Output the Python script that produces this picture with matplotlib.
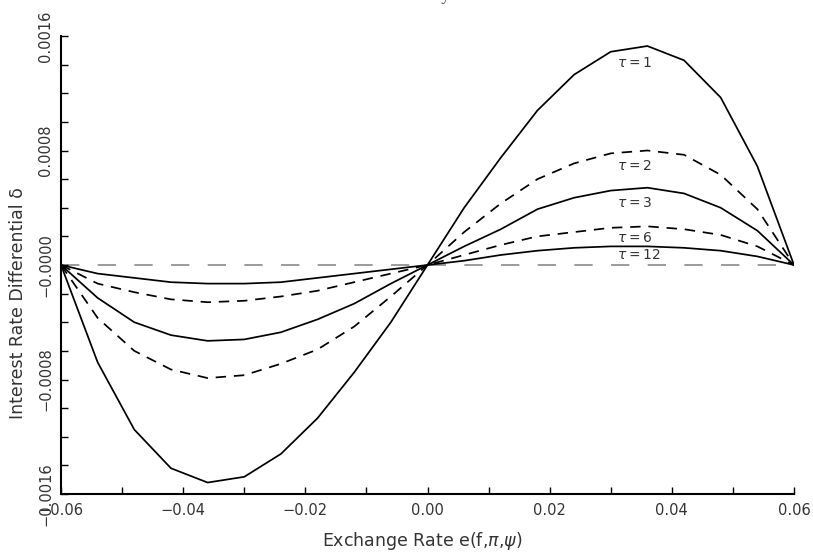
import matplotlib
matplotlib.use("Agg")
import matplotlib.pyplot as plt
from matplotlib.ticker import MultipleLocator

# exchange rate grid and interest rate differential per horizon
exchange_rate = [-0.060, -0.054, -0.048, -0.042, -0.036, -0.030, -0.024, -0.018, -0.012, -0.006, 0.000,
                 0.006, 0.012, 0.018, 0.024, 0.030, 0.036, 0.042, 0.048, 0.054, 0.060]
delta_tau1 = [0, -0.00068, -0.00115, -0.00142, -0.00152, -0.00148, -0.00132, -0.00107, -0.00075, -0.00040, 0,
              0.00040, 0.00075, 0.00108, 0.00133, 0.00149, 0.00153, 0.00143, 0.00117, 0.00069, 0]
delta_tau2 = [0, -0.00037, -0.00060, -0.00073, -0.00079, -0.00077, -0.00069, -0.00059, -0.00043, -0.00022, 0,
              0.00023, 0.00043, 0.00060, 0.00071, 0.00078, 0.00080, 0.00077, 0.00063, 0.00039, 0]
delta_tau3 = [0, -0.00023, -0.00040, -0.00049, -0.00053, -0.00052, -0.00047, -0.00038, -0.00027, -0.00013, 0,
              0.00013, 0.00025, 0.00039, 0.00047, 0.00052, 0.00054, 0.00050, 0.00040, 0.00024, 0]
delta_tau6 = [0, -0.00013, -0.00019, -0.00024, -0.00026, -0.00025, -0.00022, -0.00018, -0.00012, -0.00006, 0,
              0.00007, 0.00014, 0.00020, 0.00023, 0.00026, 0.00027, 0.00025, 0.00021, 0.00013, 0]
delta_tau12 = [0, -0.00006, -0.00009, -0.00012, -0.00013, -0.00013, -0.00012, -0.00009, -0.00006, -0.00003, 0,
               0.00003, 0.00007, 0.00010, 0.00012, 0.00013, 0.00013, 0.00012, 0.00010, 0.00006, 0]

curve_labels = [r"$\tau=1$", r"$\tau=2$", r"$\tau=3$", r"$\tau=6$", r"$\tau=12$"]
label_y = [0.00141, 0.00069, 0.00043, 0.00019, 0.00007]
label_x = 0.031

x_ticks = [-0.06, -0.04, -0.02, 0.00, 0.02, 0.04, 0.06]
x_ticklabels = ["\u22120.06", "\u22120.04", "\u22120.02", "0.00", "0.02", "0.04", "0.06"]
y_ticks = [-0.0016, -0.0008, 0.0, 0.0008, 0.0016]
y_ticklabels = ["\u22120.0016", "\u22120.0008", "\u22120.0000", "0.0008", "0.0016"]

fig = plt.figure(figsize=(8.13, 5.56), dpi=100)
ax = fig.add_axes([61 / 813, 1 - 494 / 556, (794 - 61) / 813, (494 - 36) / 556])

# --- zero reference ---
ax.axhline(0, color="#808080", linewidth=1.1, dashes=(12, 12), zorder=1)

# --- curves ---
ax.plot(exchange_rate, delta_tau1, color="black", linewidth=1.25)
ax.plot(exchange_rate, delta_tau2, color="black", linewidth=1.25, dashes=(6, 4.5))
ax.plot(exchange_rate, delta_tau3, color="black", linewidth=1.25)
ax.plot(exchange_rate, delta_tau6, color="black", linewidth=1.25, dashes=(6, 4.5))
ax.plot(exchange_rate, delta_tau12, color="black", linewidth=1.25)

for text, yv in zip(curve_labels, label_y):
    ax.text(label_x, yv, text, ha="left", va="center", fontsize=10, color="#333333")

# --- axes settings ---
ax.set_xlim(-0.06, 0.06)
ax.set_ylim(-0.0016, 0.0016)
ax.set_xticks(x_ticks, labels=x_ticklabels)
ax.set_yticks(y_ticks, labels=y_ticklabels)
ax.xaxis.set_minor_locator(MultipleLocator(0.01))
ax.yaxis.set_minor_locator(MultipleLocator(0.0002))
ax.tick_params(which="both", direction="in", length=5, width=1.0, labelsize=10.5, labelcolor="#333333")
ax.tick_params(axis="x", pad=6.5)
ax.tick_params(axis="y", pad=5.5, labelrotation=90)
for lab in ax.get_yticklabels():
    lab.set_va("center")

for side in ["top", "right"]:
    ax.spines[side].set_visible(False)
for side in ["left", "bottom"]:
    ax.spines[side].set_linewidth(1.5)

fig.text(18 / 813, 1 - 303 / 556, "Interest Rate Differential \u03b4", rotation=90,
         ha="center", va="center", fontsize=12.5, color="#333333")
fig.text(422 / 813, 1 - 541 / 556, r"Exchange Rate e(f,$\pi$,$\psi$)",
         ha="center", va="center", fontsize=12.5, color="#333333")

# title sits mostly above the frame, only its lower edge shows
fig.text(419 / 813, 1 - 0.3 / 556, "Currency", ha="center", va="baseline",
         fontsize=12, family="Liberation Serif", color="#444444")

fig.savefig("out.png", dpi=100)
